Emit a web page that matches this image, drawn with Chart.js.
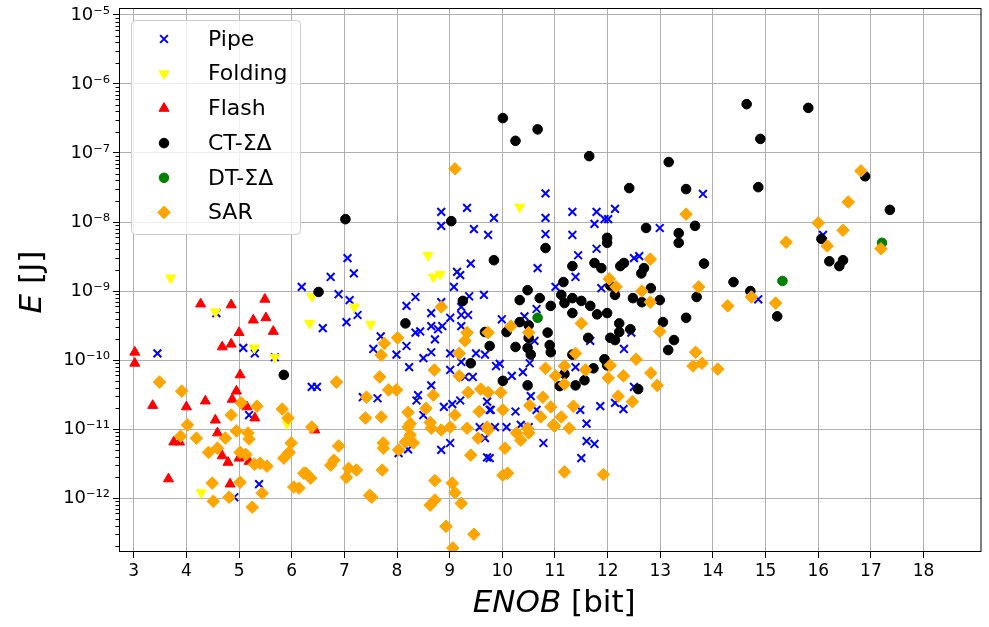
<!DOCTYPE html>
<html>
<head>
<meta charset="utf-8">
<script src="https://cdn.jsdelivr.net/npm/chart.js@4.4.1/dist/chart.umd.min.js"></script>
<style>
  html, body { margin: 0; padding: 0; background: #fff; }
</style>
</head>
<body>
<canvas id="chart" width="989" height="627"></canvas>
<script>
// axis ticks
const xTicks = [3, 4, 5, 6, 7, 8, 9, 10, 11, 12, 13, 14, 15, 16, 17, 18];
const yTickExps = [-12, -11, -10, -9, -8, -7, -6, -5];

// Pipe
const pipeEnob = [6.19, 3.45, 5.08, 5.30, 5.68, 4.57, 6.38, 6.48, 5.38, 5.19, 4.91, 7.06, 7.18, 6.74, 6.89, 7.10,
  8.84, 8.84, 9.33, 9.84, 9.46, 9.73, 9.40, 9.14, 9.20, 9.08, 9.37, 9.65, 8.35, 8.18, 8.84, 9.22,
  7.04, 7.25, 6.59, 7.69, 7.55, 7.99, 8.18, 8.35, 8.44, 8.65, 8.65, 8.78, 8.86, 9.01, 8.72, 9.22,
  9.35, 9.22, 8.65, 8.50, 9.01, 9.22, 9.50, 9.67, 8.23, 9.01, 8.65, 8.40, 8.37, 7.63, 7.35, 8.89,
  9.05, 9.20, 8.50, 9.71, 9.78, 9.29, 9.44, 8.21, 8.03, 9.01, 8.84, 9.71, 9.57, 9.67, 10.82, 10.82,
  10.82, 11.33, 11.33, 11.79, 11.75, 11.94, 12.01, 12.14, 12.99, 11.79, 11.44, 10.67, 11.39, 11.01, 11.88, 12.50,
  12.60, 13.81, 16.09, 14.86, 9.99, 10.42, 10.65, 10.61, 11.67, 12.45, 12.31, 9.95, 9.88, 10.52, 10.39, 10.18,
  11.39, 10.54, 10.65, 10.25, 11.48, 11.86, 12.14, 12.30, 11.60, 12.50, 9.76, 9.86, 10.08, 10.35, 10.50, 10.78,
  11.60, 11.75, 11.50, 9.76];
const pipeEnergy = [1.15e-9, 1.25e-10, 1.5e-10, 1.25e-10, 1.1e-10, 4.8e-10, 4.1e-11, 4.1e-11, 1.6e-12, 1.6e-11, 1.03e-12, 3.0e-9, 1.8e-9, 1.6e-9, 9.0e-10, 7.4e-10,
  1.4e-8, 8.8e-9, 1.6e-8, 1.15e-8, 7.9e-9, 6.5e-9, 2.5e-9, 1.9e-9, 1.7e-9, 1.15e-9, 8.4e-10, 8.8e-10, 8.2e-10, 6.1e-10, 6.9e-10, 5.9e-10,
  3.55e-10, 4.5e-10, 2.9e-10, 2.2e-10, 1.45e-10, 1.2e-10, 1.6e-10, 2.5e-10, 2.6e-10, 4.8e-10, 3.1e-10, 2.8e-10, 3.1e-10, 4.1e-10, 2.0e-10, 4.5e-10,
  4.5e-10, 3.1e-10, 1.3e-10, 1.07e-10, 1.25e-10, 9.4e-11, 1.25e-10, 1.2e-10, 7.9e-11, 7.2e-11, 4.3e-11, 3.1e-11, 2.6e-11, 2.8e-11, 2.9e-11, 2.1e-11,
  2.3e-11, 2.6e-11, 1.6e-11, 2.5e-11, 1.9e-11, 5.7e-11, 5.7e-11, 5.1e-12, 4.5e-12, 6.3e-12, 5.0e-12, 3.9e-12, 1.07e-11, 7.4e-12, 2.6e-8, 1.15e-8,
  6.7e-9, 1.4e-8, 6.5e-9, 1.4e-8, 9.4e-9, 1.1e-8, 1.1e-8, 1.55e-8, 8.2e-9, 4.1e-9, 3.3e-9, 2.15e-9, 1.6e-9, 1.15e-9, 1.1e-9, 3.0e-9,
  3.2e-9, 2.55e-8, 6.5e-9, 7.6e-10, 3.9e-10, 4.3e-10, 5.5e-10, 1.9e-10, 1.9e-10, 2.5e-10, 1.45e-10, 8.8e-11, 8.2e-11, 9.0e-11, 6.7e-11, 5.9e-11,
  7.9e-11, 3.0e-11, 1.9e-11, 1.8e-11, 1.9e-11, 2.15e-11, 2.4e-11, 1.95e-11, 1.2e-11, 4.1e-11, 1.9e-11, 1.07e-11, 1.07e-11, 1.15e-11, 1.07e-11, 6.3e-12,
  6.7e-12, 6.1e-12, 3.8e-12, 3.8e-12];

// Folding
const foldingEnob = [3.70, 4.55, 5.29, 5.68, 4.28, 5.91, 6.38, 6.34, 7.19, 7.50, 8.59, 8.69, 8.82, 10.33];
const foldingEnergy = [1.55e-9, 5.0e-10, 1.5e-10, 1.1e-10, 1.2e-12, 1.2e-11, 8.4e-10, 3.4e-10, 5.9e-10, 3.3e-10, 3.3e-9, 1.6e-9, 1.75e-9, 1.65e-8];

// Flash
const flashEnob = [3.02, 3.02, 4.27, 4.85, 5.49, 5.27, 5.51, 5.65, 5.00, 4.68, 4.85, 5.02, 4.95, 4.36, 3.36, 4.00,
  4.87, 5.15, 5.30, 4.55, 4.59, 3.76, 3.87, 4.68, 4.79, 5.00, 5.19, 3.66, 4.83, 6.44];
const flashEnergy = [1.3e-10, 9.0e-11, 6.5e-10, 6.3e-10, 7.6e-10, 3.8e-10, 4.1e-10, 2.6e-10, 2.5e-10, 1.55e-10, 1.7e-10, 6.1e-11, 3.55e-11, 2.55e-11, 2.2e-11, 2.1e-11,
  2.7e-11, 2.1e-11, 1.45e-11, 1.35e-11, 8.8e-12, 6.5e-12, 6.5e-12, 4.1e-12, 3.3e-12, 3.8e-12, 3.4e-12, 1.9e-12, 1.6e-12, 9.7e-12];

// CT-ΣΔ
const ctEnob = [10.01, 10.25, 10.67, 11.65, 13.16, 12.41, 13.49, 14.64, 15.81, 14.90, 14.86, 16.89, 13.66, 13.35, 13.35, 13.83,
  14.39, 14.71, 13.69, 16.06, 16.21, 16.47, 16.40, 17.36, 13.49, 15.22, 7.02, 9.03, 9.84, 6.51, 9.25, 5.85,
  8.16, 9.67, 9.76, 9.40, 12.73, 10.82, 11.99, 11.99, 11.33, 11.75, 11.88, 12.24, 12.31, 12.64, 12.69, 11.16,
  10.48, 12.82, 12.05, 12.14, 10.33, 10.71, 11.12, 10.92, 11.33, 11.50, 11.67, 12.48, 12.99, 11.18, 11.33, 11.80,
  11.99, 12.65, 10.33, 10.50, 10.08, 10.86, 10.50, 10.90, 10.92, 10.25, 10.48, 10.54, 12.22, 12.22, 12.05, 12.14,
  12.43, 13.05, 13.26, 13.15, 11.33, 11.63, 11.94, 11.99, 11.73, 11.56, 11.39, 11.09, 11.18, 10.48, 10.01, 12.58];
const ctEnergy = [3.2e-7, 1.5e-7, 2.2e-7, 9.0e-8, 7.4e-8, 3.1e-8, 3.0e-8, 5.1e-7, 4.5e-7, 1.6e-7, 3.2e-8, 4.6e-8, 8.8e-9, 6.9e-9, 5.0e-9, 2.5e-9,
  1.35e-9, 1.0e-9, 8.2e-10, 5.7e-9, 2.7e-9, 2.8e-9, 2.3e-9, 1.5e-8, 4.1e-10, 4.3e-10, 1.1e-8, 1.03e-8, 2.8e-9, 9.7e-10, 7.2e-10, 6.1e-11,
  3.4e-10, 2.55e-10, 1.6e-10, 9.0e-11, 8.2e-9, 4.2e-9, 5.9e-9, 5.0e-9, 2.3e-9, 2.55e-9, 2.15e-9, 2.3e-9, 2.55e-9, 1.8e-9, 2.15e-9, 1.35e-9,
  1.03e-9, 1.1e-9, 1.2e-9, 8.8e-10, 7.4e-10, 7.9e-10, 8.8e-10, 6.1e-10, 7.9e-10, 7.2e-10, 6.1e-10, 7.9e-10, 7.4e-10, 6.7e-10, 4.8e-10, 4.6e-10,
  4.8e-10, 6.9e-10, 3.55e-10, 3.2e-10, 2.55e-10, 2.5e-10, 2.1e-10, 1.65e-10, 1.3e-10, 1.55e-10, 1.5e-10, 1.2e-10, 3.4e-10, 2.55e-10, 2.1e-10, 1.95e-10,
  2.8e-10, 3.55e-10, 1.95e-10, 1.4e-10, 1.2e-10, 2.1e-10, 1.03e-10, 8.4e-11, 7.6e-11, 5.1e-11, 4.3e-11, 4.2e-11, 6.3e-11, 4.3e-11, 5.0e-11, 3.8e-11];

// DT-ΣΔ
const dtEnob = [10.67, 15.32, 17.21];
const dtEnergy = [4.1e-10, 1.4e-9, 5.0e-9];

// SAR
const sarEnob = [9.10, 16.81, 13.49, 16.00, 16.57, 16.47, 16.17, 15.39, 17.19, 13.73, 14.73, 14.28, 15.19, 13.67, 13.62, 13.79,
  14.09, 12.81, 12.03, 12.16, 12.65, 12.81, 10.16, 10.50, 11.50, 11.39, 9.73, 12.99, 12.54, 10.82, 11.18, 11.01,
  11.18, 11.58, 12.05, 12.01, 12.30, 12.82, 12.94, 9.97, 10.77, 10.52, 10.92, 11.35, 12.20, 12.47, 10.01, 10.73,
  11.12, 10.97, 10.48, 9.73, 10.27, 10.35, 10.50, 10.05, 10.01, 10.10, 10.99, 11.27, 11.18, 11.92, 8.84, 7.76,
  8.01, 7.70, 9.33, 9.29, 9.18, 8.71, 9.18, 7.67, 6.85, 7.84, 7.99, 7.42, 8.69, 9.35, 9.59, 9.73,
  8.55, 8.21, 7.70, 7.40, 9.10, 9.56, 8.25, 8.63, 9.33, 9.71, 6.38, 6.89, 6.80, 6.74, 6.27, 6.36,
  7.08, 7.04, 7.23, 7.72, 7.74, 7.74, 7.48, 7.52, 8.21, 8.25, 8.16, 8.03, 8.31, 8.65, 8.84, 9.01,
  9.54, 9.40, 8.72, 9.05, 9.10, 8.72, 8.63, 9.22, 8.93, 9.46, 9.06, 6.14, 4.02, 3.89, 4.19, 4.42,
  4.59, 4.74, 4.85, 4.95, 5.04, 5.17, 5.19, 5.34, 5.02, 5.13, 5.29, 5.40, 5.53, 5.82, 5.93, 5.99,
  5.95, 5.85, 4.49, 5.02, 4.51, 4.81, 5.44, 5.25, 6.04, 6.23, 3.49, 3.91];
const sarEnergy = [5.9e-8, 5.5e-8, 1.3e-8, 9.7e-9, 1.95e-8, 7.6e-9, 4.5e-9, 5.1e-9, 4.1e-9, 1.15e-9, 8.2e-10, 6.1e-10, 6.7e-10, 1.3e-10, 8.2e-11, 9.0e-11,
  7.4e-11, 2.9e-9, 1.5e-9, 1.15e-9, 1.0e-9, 6.9e-10, 3.1e-10, 2.5e-10, 3.4e-10, 1.25e-10, 2.5e-10, 2.6e-10, 1.03e-10, 7.6e-11, 8.2e-11, 5.9e-11,
  4.5e-11, 7.2e-11, 8.4e-11, 5.5e-11, 5.9e-11, 6.5e-11, 4.3e-11, 3.4e-11, 2.9e-11, 2.2e-11, 2.1e-11, 2.15e-11, 3.0e-11, 2.5e-11, 1.9e-11, 1.5e-11,
  1.5e-11, 1.15e-11, 1.03e-11, 9.7e-12, 8.8e-12, 6.9e-12, 8.8e-12, 5.3e-12, 2.15e-12, 2.3e-12, 1.1e-11, 1.03e-11, 2.4e-12, 2.2e-12, 5.9e-10, 1.75e-10,
  2.1e-10, 1.18e-10, 2.5e-10, 1.9e-10, 1.25e-10, 7.2e-11, 5.9e-11, 5.7e-11, 4.8e-11, 3.7e-11, 3.7e-11, 2.9e-11, 3.1e-11, 3.4e-11, 3.8e-11, 3.4e-11,
  2.0e-11, 1.75e-11, 1.5e-11, 1.45e-11, 1.6e-11, 1.8e-11, 1.2e-11, 1.25e-11, 1.03e-11, 1.07e-11, 1.07e-11, 5.7e-12, 3.55e-12, 3.0e-12, 2.3e-12, 1.95e-12,
  2.7e-12, 2.0e-12, 2.55e-12, 2.55e-12, 6.3e-12, 5.3e-12, 1.1e-12, 1.03e-12, 1.07e-11, 8.2e-12, 6.5e-12, 5.0e-12, 6.3e-12, 1.03e-11, 9.7e-12, 1.07e-11,
  7.4e-12, 4.2e-12, 1.8e-12, 1.65e-12, 1.2e-12, 9.4e-13, 7.9e-13, 8.4e-13, 3.9e-13, 3.0e-13, 1.9e-13, 1.4e-12, 1.15e-11, 7.9e-12, 7.4e-12, 4.6e-12,
  5.3e-12, 7.4e-12, 1.6e-11, 9.4e-12, 2.4e-11, 8.8e-12, 7.2e-12, 2.15e-11, 4.6e-12, 4.3e-12, 3.1e-12, 3.2e-12, 2.9e-12, 1.95e-11, 1.45e-11, 6.3e-12,
  4.6e-12, 3.8e-12, 1.65e-12, 1.7e-12, 9.0e-13, 1.03e-12, 1.18e-12, 7.4e-13, 1.45e-12, 2.3e-12, 4.8e-11, 3.55e-11];

const FONT = '"DejaVu Sans", sans-serif';
const sup = { '-': '\u207B', '0': '\u2070', '1': '\u00B9', '2': '\u00B2', '3': '\u00B3', '4': '\u2074',
  '5': '\u2075', '6': '\u2076', '7': '\u2077', '8': '\u2078', '9': '\u2079' };

function toPoints(xs, ys) {
  return xs.map((x, i) => ({ x: x, y: ys[i] }));
}

function series(label, xs, ys, style, order) {
  return Object.assign({
    label: label,
    data: toPoints(xs, ys),
    order: order,
    clip: 0,
    pointBorderWidth: 1
  }, style);
}

const styles = {
  pipe: { pointStyle: 'crossRot', pointRadius: 5.5, pointBorderWidth: 2, borderColor: '#0000ff', backgroundColor: '#0000ff' },
  folding: { pointStyle: 'triangle', pointRotation: 180, pointRadius: 5.8, borderColor: '#ffff00', backgroundColor: '#ffff00' },
  flash: { pointStyle: 'triangle', pointRadius: 5.8, borderColor: '#ff0000', backgroundColor: '#ff0000' },
  ct: { pointStyle: 'circle', pointRadius: 4.8, borderColor: '#000000', backgroundColor: '#000000' },
  dt: { pointStyle: 'circle', pointRadius: 4.8, borderColor: '#008000', backgroundColor: '#008000' },
  sar: { pointStyle: 'rectRot', pointRadius: 6.3, borderColor: '#ffa500', backgroundColor: '#ffa500' }
};

// draw text made of italic / upright pieces, centred on the current origin
function drawMixed(ctx, parts, size) {
  const fonts = parts.map(p => (p.italic ? 'italic ' : '') + size + 'px ' + FONT);
  const widths = parts.map((p, i) => { ctx.font = fonts[i]; return ctx.measureText(p.text).width; });
  let cx = -widths.reduce((s, w) => s + w, 0) / 2;
  parts.forEach((p, i) => { ctx.font = fonts[i]; ctx.fillText(p.text, cx, 0); cx += widths[i]; });
}

const decorations = {
  id: 'decorations',
  afterDraw(chart) {
    const { ctx, chartArea: a } = chart;
    const y = chart.scales.y;
    ctx.save();
    ctx.strokeStyle = '#000';
    ctx.lineWidth = 1;

    // minor ticks on the log axis
    for (let e = -13; e <= -5; e++) {
      for (let m = 2; m <= 9; m++) {
        const v = m * Math.pow(10, e);
        if (v < y.min || v > y.max) continue;
        const py = Math.round(y.getPixelForValue(v)) + 0.5;
        ctx.beginPath();
        ctx.moveTo(a.left - 3.5, py);
        ctx.lineTo(a.left, py);
        ctx.stroke();
      }
    }

    // frame
    ctx.strokeRect(a.left + 0.5, a.top + 0.5, a.right - a.left - 1, a.bottom - a.top - 1);

    // axis titles
    ctx.fillStyle = '#000';
    ctx.textAlign = 'left';
    ctx.textBaseline = 'middle';
    ctx.save();
    ctx.translate((a.left + a.right) / 2 + 4, 604);
    drawMixed(ctx, [{ text: 'ENOB', italic: true }, { text: ' [bit]' }], 31);
    ctx.restore();
    ctx.save();
    ctx.translate(33, (a.top + a.bottom) / 2 + 2);
    ctx.rotate(-Math.PI / 2);
    drawMixed(ctx, [{ text: 'E', italic: true }, { text: ' [J]' }], 31);
    ctx.restore();

    // legend
    const lx = a.left + 12, ly = a.top + 12, lw = 169, lh = 214;
    ctx.beginPath();
    ctx.roundRect(lx + 0.5, ly + 0.5, lw, lh, 4);
    ctx.fillStyle = 'rgba(255,255,255,0.8)';
    ctx.fill();
    ctx.strokeStyle = '#cccccc';
    ctx.stroke();
    ctx.font = '22px ' + FONT;
    chart.data.datasets.forEach((ds, i) => {
      const ry = ly + 19 + i * 34.7;
      ctx.fillStyle = ds.backgroundColor;
      ctx.strokeStyle = ds.borderColor;
      ctx.lineWidth = ds.pointBorderWidth;
      Chart.helpers.drawPoint(ctx, {
        pointStyle: ds.pointStyle,
        rotation: ds.pointRotation || 0,
        radius: ds.pointRadius,
        borderWidth: ds.pointBorderWidth
      }, lx + 33, ry);
      ctx.fillStyle = '#000';
      ctx.fillText(ds.label, lx + 77, ry + 1);
    });
    ctx.restore();
  }
};

function noPadding(scale) {
  scale.paddingTop = 0;
  scale.paddingBottom = 0;
  scale.paddingLeft = 0;
  scale.paddingRight = 0;
}

new Chart(document.getElementById('chart'), {
  type: 'scatter',
  data: {
    datasets: [
      series('Pipe', pipeEnob, pipeEnergy, styles.pipe, 6),
      series('Folding', foldingEnob, foldingEnergy, styles.folding, 5),
      series('Flash', flashEnob, flashEnergy, styles.flash, 4),
      series('CT-\u03A3\u0394', ctEnob, ctEnergy, styles.ct, 3),
      series('DT-\u03A3\u0394', dtEnob, dtEnergy, styles.dt, 2),
      series('SAR', sarEnob, sarEnergy, styles.sar, 1)
    ]
  },
  options: {
    responsive: false,
    animation: false,
    events: [],
    layout: { padding: { top: 8, right: 1, left: 0, bottom: 0 } },
    plugins: { legend: { display: false }, tooltip: { enabled: false } },
    scales: {
      x: {
        type: 'linear',
        min: 2.72,
        max: 19.1,
        afterBuildTicks: s => { s.ticks = xTicks.map(v => ({ value: v })); },
        afterFit: s => { s.height = 75; noPadding(s); },
        border: { display: false },
        grid: { color: '#b0b0b0', lineWidth: 1, tickLength: 6, tickColor: '#000' },
        ticks: { color: '#000', font: { family: FONT, size: 17 }, padding: 3, maxRotation: 0,
          callback: v => String(v) }
      },
      y: {
        type: 'logarithmic',
        min: 1.66e-13,
        max: 1.26e-5,
        afterBuildTicks: s => { s.ticks = yTickExps.map(e => ({ value: Math.pow(10, e) })); },
        afterFit: s => { s.width = 119; noPadding(s); },
        border: { display: false },
        grid: { color: '#b0b0b0', lineWidth: 1, tickLength: 6, tickColor: '#000' },
        ticks: { color: '#000', font: { family: FONT, size: 18 }, padding: 3,
          callback: v => '10' + String(Math.round(Math.log10(v))).split('').map(c => sup[c]).join('') }
      }
    }
  },
  plugins: [decorations]
});
</script>
</body>
</html>
